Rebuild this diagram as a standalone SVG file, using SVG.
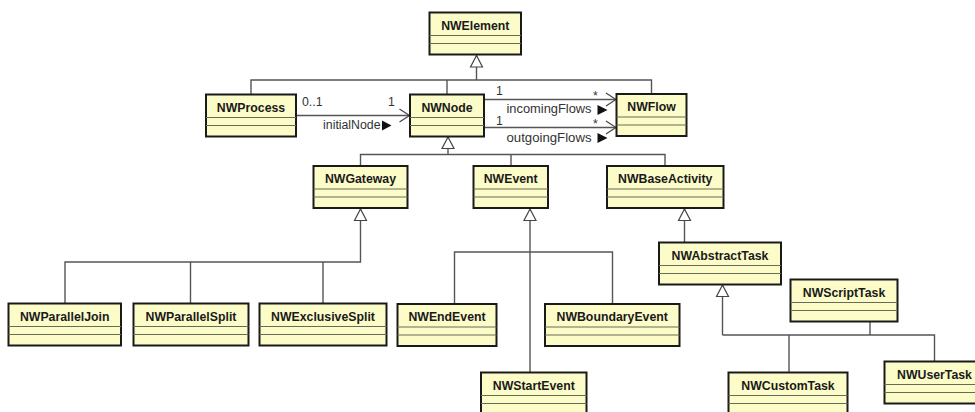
<svg xmlns="http://www.w3.org/2000/svg" width="975" height="412" viewBox="0 0 975 412">
  <style>
    .cls rect{fill:#fcfcc8;stroke:#1a1a1a;stroke-width:2}
    .cls path{stroke:#6a6a5a;stroke-width:1;fill:none}
    .cls text{font:bold 12.3px "Liberation Sans",Arial,sans-serif;fill:#1a1a1a;text-anchor:middle}
    .c{fill:none;stroke:#555;stroke-width:1.4}
    .lbl{font:12.3px "Liberation Sans",Arial,sans-serif;fill:#333}
    .dir{fill:#111}
  </style>
  <defs>
    <!-- hollow triangle for generalization -->
    <marker id="gen" markerUnits="userSpaceOnUse" viewBox="-13 -7.5 14 15" refX="0" refY="0" markerWidth="14" markerHeight="15" orient="auto">
      <path d="M0,0 L-11.5,-6 L-11.5,6 Z" fill="#fff" stroke="#444" stroke-width="1.2"/>
    </marker>
    <!-- open arrowhead for navigable associations -->
    <marker id="nav" markerUnits="userSpaceOnUse" viewBox="-12 -8 13 16" refX="0" refY="0" markerWidth="13" markerHeight="16" orient="auto">
      <path d="M-10,-6.5 L0,0 L-10,6.5" fill="none" stroke="#444" stroke-width="1.2"/>
    </marker>
  </defs>

  <rect width="975" height="412" fill="#fff"/>

  <g id="connectors">
    <!-- generalizations to NWElement -->
    <path class="c" d="M251,94.5 V80 H651.5 V94 M447,94.5 V80"/>
    <path class="c" d="M476.5,80 V55.5" marker-end="url(#gen)"/>
    <!-- generalizations to NWNode -->
    <path class="c" d="M360.5,166 V154.5 H665 V166 M511,166 V154.5"/>
    <path class="c" d="M448,154.5 V137" marker-end="url(#gen)"/>
    <!-- generalizations to NWGateway -->
    <path class="c" d="M190.5,303.5 V262 M323,303.5 V262"/>
    <path class="c" d="M65,303.5 V262 H360.5 V209" marker-end="url(#gen)"/>
    <!-- generalizations to NWEvent -->
    <path class="c" d="M454.5,304 V252 H612.5 V304"/>
    <path class="c" d="M530,372.5 V209" marker-end="url(#gen)"/>
    <!-- generalization to NWBaseActivity -->
    <path class="c" d="M684.5,242.5 V209" marker-end="url(#gen)"/>
    <!-- generalizations to NWAbstractTask -->
    <path class="c" d="M722.5,335 H934.5 V361.5 M789,372.5 V335 M870,321.5 V335"/>
    <path class="c" d="M722.5,335 V285" marker-end="url(#gen)"/>

    <!-- associations -->
    <path class="c" d="M296,115.5 H409.5" marker-end="url(#nav)"/>
    <path class="c" d="M484,99.5 H616" marker-end="url(#nav)"/>
    <path class="c" d="M484,127.5 H616" marker-end="url(#nav)"/>

    <text class="lbl" x="302" y="106">0..1</text>
    <text class="lbl" x="388" y="106">1</text>
    <text class="lbl" x="380.5" y="128.5" text-anchor="end">initialNode</text>
    <polygon class="dir" points="382,120.5 391.5,125.5 382,130.5"/>

    <text class="lbl" x="496" y="95">1</text>
    <text class="lbl" x="593" y="99.5">*</text>
    <text class="lbl" x="506.5" y="113" textLength="85" lengthAdjust="spacingAndGlyphs">incomingFlows</text>
    <polygon class="dir" points="597.5,105 607.5,110 597.5,115"/>

    <text class="lbl" x="496" y="124.5">1</text>
    <text class="lbl" x="593" y="127.5">*</text>
    <text class="lbl" x="506.5" y="141.5" textLength="85" lengthAdjust="spacingAndGlyphs">outgoingFlows</text>
    <polygon class="dir" points="597.5,133 607.5,138 597.5,143"/>
  </g>

  <g id="NWElement" class="cls"><rect x="429.5" y="12.5" width="91.5" height="42"/><path d="M429.5,35.5 H521 M429.5,43.5 H521"/><text x="475.3" y="29.5">NWElement</text></g>
  <g id="NWProcess" class="cls"><rect x="206" y="94.5" width="90" height="42"/><path d="M206,117.5 H296 M206,125.5 H296"/><text x="251" y="111.5">NWProcess</text></g>
  <g id="NWNode" class="cls"><rect x="410" y="94.5" width="74" height="42"/><path d="M410,117.5 H484 M410,125.5 H484"/><text x="447" y="111.5">NWNode</text></g>
  <g id="NWFlow" class="cls"><rect x="616.5" y="94" width="70" height="42"/><path d="M616.5,117 H686.5 M616.5,125 H686.5"/><text x="651.5" y="111">NWFlow</text></g>
  <g id="NWGateway" class="cls"><rect x="313.5" y="166" width="94" height="42"/><path d="M313.5,189 H407.5 M313.5,197 H407.5"/><text x="360.5" y="183">NWGateway</text></g>
  <g id="NWEvent" class="cls"><rect x="473.5" y="166" width="74.5" height="42"/><path d="M473.5,189 H548 M473.5,197 H548"/><text x="510.7" y="183">NWEvent</text></g>
  <g id="NWBaseActivity" class="cls"><rect x="607" y="166" width="116.5" height="42"/><path d="M607,189 H723.5 M607,197 H723.5"/><text x="665.2" y="183">NWBaseActivity</text></g>
  <g id="NWAbstractTask" class="cls"><rect x="659" y="242.5" width="122" height="42"/><path d="M659,265.5 H781 M659,273.5 H781"/><text x="720" y="259.5">NWAbstractTask</text></g>
  <g id="NWParallelJoin" class="cls"><rect x="8.5" y="303.5" width="112.5" height="42"/><path d="M8.5,326.5 H121 M8.5,334.5 H121"/><text x="64.7" y="320.5">NWParallelJoin</text></g>
  <g id="NWParallelSplit" class="cls"><rect x="133.5" y="303.5" width="115" height="42"/><path d="M133.5,326.5 H248.5 M133.5,334.5 H248.5"/><text x="191" y="320.5">NWParallelSplit</text></g>
  <g id="NWExclusiveSplit" class="cls"><rect x="259.5" y="303.5" width="127" height="42"/><path d="M259.5,326.5 H386.5 M259.5,334.5 H386.5"/><text x="323" y="320.5">NWExclusiveSplit</text></g>
  <g id="NWEndEvent" class="cls"><rect x="397.5" y="304" width="99" height="42"/><path d="M397.5,327 H496.5 M397.5,335 H496.5"/><text x="447" y="321">NWEndEvent</text></g>
  <g id="NWBoundaryEvent" class="cls"><rect x="545" y="304" width="134.5" height="42"/><path d="M545,327 H679.5 M545,335 H679.5"/><text x="612.2" y="321">NWBoundaryEvent</text></g>
  <g id="NWScriptTask" class="cls"><rect x="790.5" y="279.5" width="107" height="42"/><path d="M790.5,302.5 H897.5 M790.5,310.5 H897.5"/><text x="844" y="296.5">NWScriptTask</text></g>
  <g id="NWStartEvent" class="cls"><rect x="481" y="372.5" width="105.5" height="42"/><path d="M481,395.5 H586.5 M481,403.5 H586.5"/><text x="533.8" y="389.5">NWStartEvent</text></g>
  <g id="NWCustomTask" class="cls"><rect x="728.5" y="372.5" width="119" height="42"/><path d="M728.5,395.5 H847.5 M728.5,403.5 H847.5"/><text x="788" y="389.5">NWCustomTask</text></g>
  <g id="NWUserTask" class="cls"><rect x="884.5" y="361.5" width="100" height="42"/><path d="M884.5,384.5 H984.5 M884.5,392.5 H984.5"/><text x="934.5" y="378.5">NWUserTask</text></g>
</svg>
